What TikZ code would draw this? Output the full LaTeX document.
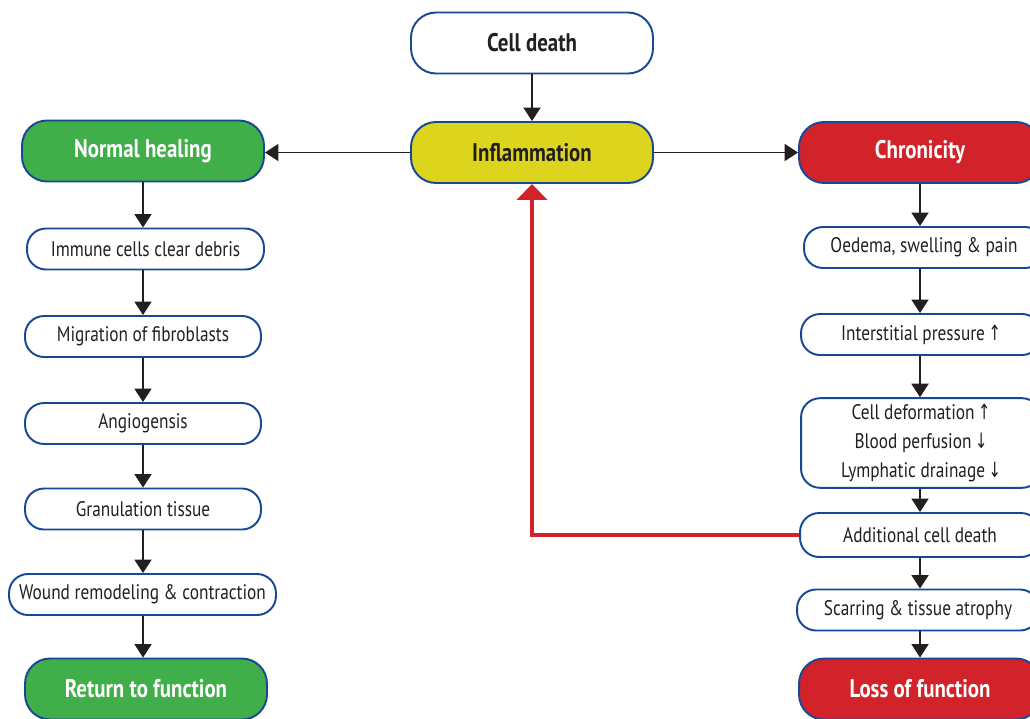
\documentclass[tikz,border=0pt]{standalone}
\usepackage{fontspec}
\setmainfont{PT Sans}[FakeStretch=0.82]
\newfontfamily\arrowfont{DejaVu Sans}[FakeStretch=0.7]
\usepackage{tikz}
\usetikzlibrary{arrows.meta, positioning}
\definecolor{myblue}{RGB}{22,72,150}
\definecolor{mygreen}{RGB}{64,174,73}
\definecolor{myyellow}{RGB}{221,212,30}
\definecolor{myred}{RGB}{210,35,42}
\definecolor{mytext}{RGB}{35,31,32}
\newcommand{\up}{\,{\arrowfont\char"2191}}
\newcommand{\down}{\,{\arrowfont\char"2193}}

\begin{document}
\begin{tikzpicture}[x=0.02cm, y=-0.02cm,
    bigbox/.style={draw=myblue, line width=1.1pt, rounded corners=0.5cm,
        minimum width=4.84cm, minimum height=1.22cm, font=\fontsize{14.5}{16}\selectfont\bfseries, text=mytext},
    smallbox/.style={draw=myblue, line width=1.1pt, rounded corners=0.38cm,
        minimum height=0.82cm, font=\fontsize{12}{14}\selectfont, text=mytext, align=center},
    flow/.style={-{Triangle[width=0.34cm, length=0.27cm]}, line width=1.1pt, mytext},
    back/.style={-{Triangle[width=0.6cm, length=0.32cm]}, line width=2.8pt, myred}]
    \useasboundingbox (0,0) rectangle (1030,718);

    % top
    \node[bigbox, fill=white] (death) at (532,43) {Cell death};
    \node[bigbox, fill=myyellow] (infl) at (532,152.5) {Inflammation};

    % left: normal healing
    \node[bigbox, fill=mygreen, text=white] (normal) at (143,151) {Normal healing};
    \node[smallbox, minimum width=4.74cm] (immune) at (145.5,249) {Immune cells clear debris};
    \node[smallbox, minimum width=4.72cm] (migr) at (143,336.5) {Migration of fibroblasts};
    \node[smallbox, minimum width=4.72cm] (angio) at (143,423.5) {Angiogensis};
    \node[smallbox, minimum width=4.72cm] (granu) at (143,509) {Granulation tissue};
    \node[smallbox, minimum width=5.34cm] (remod) at (142.5,594.5) {Wound remodeling \& contraction};
    \node[bigbox, fill=mygreen, text=white] (ret) at (146,689) {Return to function};

    % right: chronicity
    \node[bigbox, fill=myred, text=white] (chron) at (920,152.5) {Chronicity};
    \node[smallbox, minimum width=4.8cm] (oedema) at (924,247.5) {Oedema, swelling \& pain};
    \node[smallbox, minimum width=4.8cm] (press) at (921,334.5) {Interstitial pressure\up};
    \node[smallbox, minimum width=4.8cm, minimum height=1.78cm] (deform) at (921,443)
        {Cell deformation\up\\[2.5pt] Blood perfusion\down\\[2.5pt] Lymphatic drainage\down};
    \node[smallbox, minimum width=4.8cm, minimum height=0.88cm] (addit) at (920,535) {Additional cell death};
    \node[smallbox, minimum width=4.84cm] (scar) at (918,610) {Scarring \& tissue atrophy};
    \node[bigbox, fill=myred, text=white] (loss) at (920,689) {Loss of function};

    % Arrows
    \draw[flow] (death) -- (infl);
    \draw[flow] (infl.west) -- (infl.west -| normal.east);
    \draw[flow] (infl.east) -- (infl.east -| chron.west);
    \draw[flow] (normal.south) -- (normal.south |- immune.north);
    \draw[flow] (immune.south -| normal.south) -- (normal.south |- migr.north);
    \draw[flow] (migr.south -| normal.south) -- (normal.south |- angio.north);
    \draw[flow] (angio.south -| normal.south) -- (normal.south |- granu.north);
    \draw[flow] (granu.south -| normal.south) -- (normal.south |- remod.north);
    \draw[flow] (remod.south -| normal.south) -- (normal.south |- ret.north);
    \draw[flow] (chron) -- (chron |- oedema.north);
    \draw[flow] (oedema.south -| chron.south) -- (chron.south |- press.north);
    \draw[flow] (press.south -| chron.south) -- (chron.south |- deform.north);
    \draw[flow] (deform.south -| chron.south) -- (chron.south |- addit.north);
    \draw[flow] (addit.south -| chron.south) -- (chron.south |- scar.north);
    \draw[flow] (scar.south -| chron.south) -- (loss);

    % feedback loop
    \draw[back] (addit.west) -| (infl.south);
\end{tikzpicture}
\end{document}
